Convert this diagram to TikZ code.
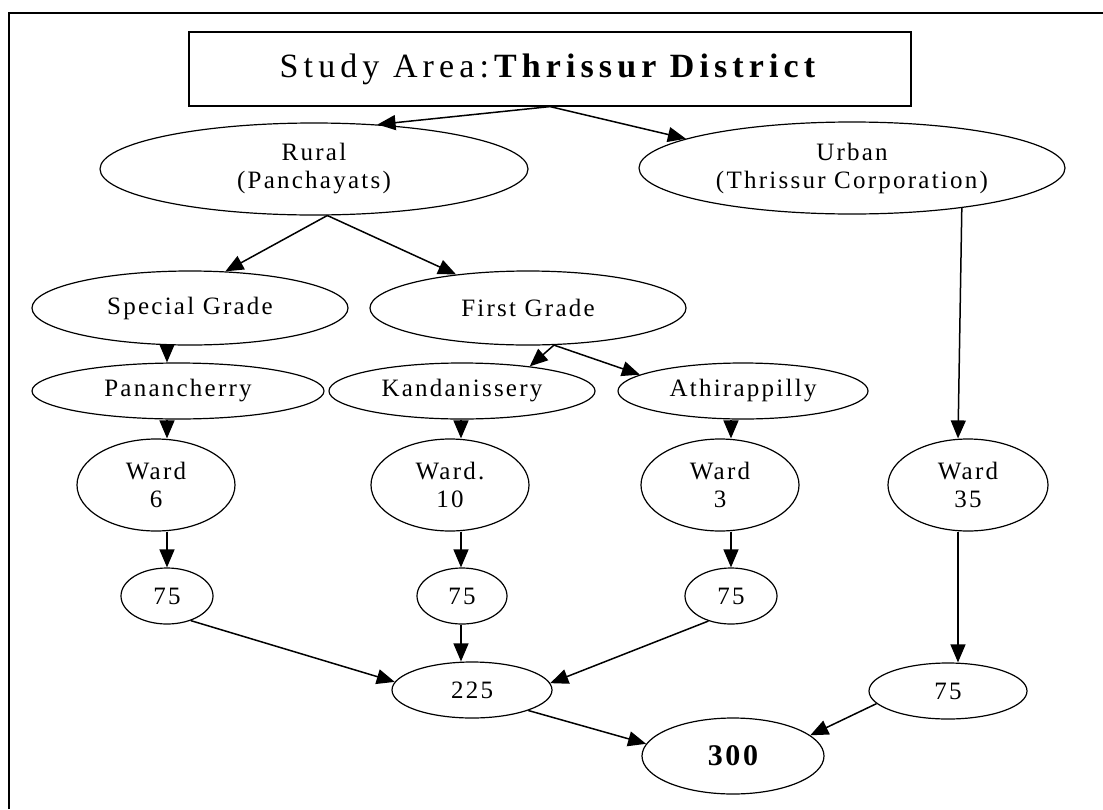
\documentclass[tikz,border=0pt]{standalone}
\usepackage{fontspec}
\setmainfont{Liberation Serif}
\newfontfamily\nodefont[LetterSpace=9]{Liberation Serif}
\newfontfamily\titlefont[LetterSpace=15]{Liberation Serif}
\usetikzlibrary{shapes.geometric,arrows.meta,calc}
\begin{document}
\begin{tikzpicture}[x=1pt,y=-1pt,
  ell/.style={draw, ellipse, line width=1.2pt, inner sep=0pt, align=center,
    font={\nodefont\fontsize{25}{28}\selectfont}},
  arr/.style={-{Triangle[length=18pt,width=15pt]}, line width=1.5pt},
]
\useasboundingbox (0,0) rectangle (1103,809);
\draw[line width=1.5pt] (9,809) -- (9,13) -- (1103,13);

\node[draw, line width=1.2pt, minimum width=722pt, minimum height=74pt, inner sep=0pt,
  font={\titlefont\fontsize{34}{36}\selectfont}] (title) at (550,69) {Study Area:\textbf{Thrissur District}};

\node[ell, minimum width=428pt, minimum height=92pt] (rural) at (314,169) {Rural\\(Panchayats)};
\node[ell, minimum width=426pt, minimum height=92pt] (urban) at (852,168) {Urban\\(Thrissur Corporation)};
\node[ell, minimum width=316pt, minimum height=74pt] (special) at (190,308) {Special Grade};
\node[ell, minimum width=316pt, minimum height=74pt] (first) at (528,308) {First Grade};
\node[ell, minimum width=292pt, minimum height=56pt] (pananch) at (178,391) {Panancherry};
\node[ell, minimum width=266pt, minimum height=56pt] (kand) at (462,391) {Kandanissery};
\node[ell, minimum width=250pt, minimum height=56pt] (athi) at (743,391) {Athirappilly};
\node[ell, minimum width=158pt, minimum height=92pt] (ward6) at (156,485) {Ward\\6};
\node[ell, minimum width=158pt, minimum height=92pt] (ward10) at (450,485) {Ward.\\10};
\node[ell, minimum width=158pt, minimum height=92pt] (ward3) at (720,485) {Ward\\3};
\node[ell, minimum width=160pt, minimum height=92pt] (ward35) at (968,485) {Ward\\35};
\node[ell, minimum width=92pt, minimum height=56pt] (a75) at (167,596) {75};
\node[ell, minimum width=90pt, minimum height=56pt] (b75) at (462,596) {75};
\node[ell, minimum width=92pt, minimum height=56pt] (c75) at (731,596) {75};
\node[ell, minimum width=160pt, minimum height=56pt] (n225) at (472,690) {225};
\node[ell, minimum width=158pt, minimum height=56pt] (d75) at (948,691) {75};
\node[ell, minimum width=182pt, minimum height=76pt,
  font={\nodefont\bfseries\fontsize{30}{32}\selectfont}] (n300) at (733,756) {300};

\coordinate (c1) at (167,0);
\coordinate (c2) at (461,0);
\coordinate (c3) at (731,0);
\coordinate (c4) at (958,0);

\draw[arr] (title.south) -- (rural.35);
\draw[arr] (title.south) -- (urban.170);
\draw[arr] (rural.-74) -- (special.46);
\draw[arr] (rural.-74) -- (first.155);
\draw[arr] (first.-55) -- (kand.20);
\draw[arr] (first.-55) -- (athi.171);

\draw[arr] (special.south -| c1) -- (pananch.north -| c1);
\draw[arr] (pananch.south -| c1) -- (ward6.north -| c1);
\draw[arr] (ward6.south -| c1) -- (a75.north -| c1);
\draw[arr] (kand.south -| c2) -- (ward10.north -| c2);
\draw[arr] (ward10.south -| c2) -- (b75.north -| c2);
\draw[arr] (b75.south -| c2) -- (n225.north -| c2);
\draw[arr] (athi.south -| c3) -- (ward3.north -| c3);
\draw[arr] (ward3.south -| c3) -- (c75.north -| c3);
\draw[arr] (urban.-20.5) -- (ward35.north -| c4);
\draw[arr] (ward35.south -| c4) -- (d75.north -| c4);

\draw[arr] (a75.-46) -- (n225.174);
\draw[arr] (c75.-132) -- (n225.5);
\draw[arr] (n225.-20) -- (n300.172);
\draw[arr] (d75.190) -- (n300.15);
\end{tikzpicture}
\end{document}
